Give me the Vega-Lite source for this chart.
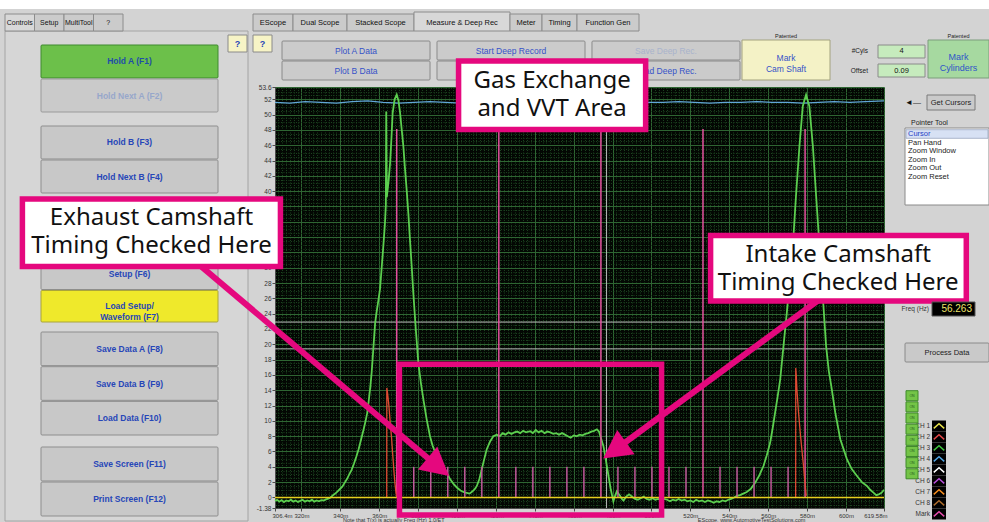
{
"$schema":"https://vega.github.io/schema/vega-lite/v6.json",
"background":"#d3d3d3",
"padding":0,
"spacing":0,
"bounds":"flush",
"config":{"view":{"stroke":null},"font":"Liberation Sans","text":{"font":"Liberation Sans"},"concat":{"spacing":0}},
"datasets":{
"windowTop":[{"strip":"title bar"}],
"panels":[{"panel":"Controls"}],
"leftTabs":[{"tab":"Controls","strip":"tabs","state":"sel"},{"tab":"Setup","strip":"tabs","state":"tab"},{"tab":"MultiTool","strip":"tabs","state":"tab"},{"tab":"?","strip":"tabs","state":"tab"}],
"scopeTabs":[{"tab":"EScope","strip":"tabs","state":"tab"},{"tab":"Dual Scope","strip":"tabs","state":"tab"},{"tab":"Stacked Scope","strip":"tabs","state":"tab"},{"tab":"Measure & Deep Rec","strip":"tabs","state":"sel"},{"tab":"Meter","strip":"tabs","state":"tab"},{"tab":"Timing","strip":"tabs","state":"tab"},{"tab":"Function Gen","strip":"tabs","state":"tab"}],
"helpButtons":[{"help":"Controls help","strip":"help","label":"?"},{"help":"Scope help","strip":"help","label":"?"}],
"controlButtons":[
{"panel":"Controls","group":"g1","key":"F1","label":"Hold A (F1)","state":"active"},
{"panel":"Controls","group":"g1","key":"F2","label":"Hold Next A (F2)","state":"disabled"},
{"panel":"Controls","group":"g2","key":"F3","label":"Hold B (F3)","state":"normal"},
{"panel":"Controls","group":"g2","key":"F4","label":"Hold Next B (F4)","state":"normal"},
{"panel":"Controls","group":"g3","key":"F6","label":"Setup (F6)","state":"normal"},
{"panel":"Controls","group":"g3","key":"F7","label":"Load Setup/\nWaveform (F7)","state":"load"},
{"panel":"Controls","group":"g4","key":"F8","label":"Save Data A (F8)","state":"normal"},
{"panel":"Controls","group":"g4","key":"F9","label":"Save Data B (F9)","state":"normal"},
{"panel":"Controls","group":"g4","key":"F10","label":"Load Data (F10)","state":"normal"},
{"panel":"Controls","group":"g5","key":"F11","label":"Save Screen (F11)","state":"normal"},
{"panel":"Controls","group":"g5","key":"F12","label":"Print Screen (F12)","state":"normal"}],
"scopeButtons":[{"col":"plot","row":"r1","label":"Plot A Data","state":"normal"},{"col":"plot","row":"r2","label":"Plot B Data","state":"normal"},{"col":"deep","row":"r1","label":"Start Deep Record","state":"normal"},{"col":"deep","row":"r2","label":"","state":"normal"},{"col":"save","row":"r1","label":"Save Deep Rec.","state":"disabled"},{"col":"save","row":"r2","label":"Load Deep Rec.","state":"normal"}],
"markCam":[{"widget":"Mark Cam Shaft","label":"Mark\nCam Shaft","note":"Patented"}],
"markCyl":[{"widget":"Mark Cylinders","label":"Mark\nCylinders","note":"Patented"}],
"cylSetup":[{"widget":"Cylinder setup","setting":"#Cyls","value":"4"},{"widget":"Cylinder setup","setting":"Offset","value":"0.09"}],
"getCursors":[{"widget":"Get Cursors","arrow":"◄—"}],
"pointerBox":[{"box":"Pointer Tool"}],
"pointerItems":[{"box":"Pointer Tool","item":"Cursor","state":"sel"},{"box":"Pointer Tool","item":"Pan Hand","state":"item"},{"box":"Pointer Tool","item":"Zoom Window","state":"item"},{"box":"Pointer Tool","item":"Zoom In","state":"item"},{"box":"Pointer Tool","item":"Zoom Out","state":"item"},{"box":"Pointer Tool","item":"Zoom Reset","state":"item"}],
"freq":[{"widget":"Freq (Hz)","value":"56.263"}],
"processData":[{"widget":"Process Data"}],
"channels":[{"ch":"CH 1","column":"traces","switch":"ON"},{"ch":"CH 2","column":"traces","switch":"ON"},{"ch":"CH 3","column":"traces","switch":"ON"},{"ch":"CH 4","column":"traces","switch":"ON"},{"ch":"CH 5","column":"traces","switch":"ON"},{"ch":"CH 6","column":"traces","switch":"ON"},{"ch":"CH 7","column":"traces","switch":"ON"},{"ch":"CH 8","column":"traces","switch":"ON"},{"ch":"Mark","column":"traces","switch":"none"}],
"trace":[
{"t":306.4,"p":-0.45},{"t":307.5,"p":-0.3},{"t":308.6,"p":-0.55},{"t":309.8,"p":-0.35},{"t":311,"p":-0.6},{"t":312.2,"p":-0.4},{"t":313.4,"p":-0.5},{"t":314.6,"p":-0.3},{"t":315.8,"p":-0.55},{"t":317,"p":-0.4},{"t":318.2,"p":-0.6},{"t":319.4,"p":-0.45},{"t":320.6,"p":-0.3},{"t":321.8,"p":-0.55},{"t":323,"p":-0.4},{"t":324.2,"p":-0.5},{"t":325.4,"p":-0.3},{"t":326.6,"p":-0.55},{"t":327.8,"p":-0.4},{"t":329,"p":-0.5},{"t":330.2,"p":-0.35},{"t":331.4,"p":-0.4},{"t":332.6,"p":-0.25},{"t":333.8,"p":-0.15},{"t":335,"p":0.0},
{"t":336.2,"p":0.3},{"t":337.4,"p":0.5},{"t":338.6,"p":0.8},{"t":339.8,"p":1.1},{"t":341,"p":1.4},{"t":342.2,"p":1.9},{"t":343.4,"p":2.4},{"t":344.6,"p":3.0},{"t":345.8,"p":3.6},{"t":347,"p":4.4},{"t":348.2,"p":5.3},{"t":349.4,"p":6.3},{"t":350.6,"p":7.5},{"t":351.8,"p":8.7},{"t":353,"p":10.0},{"t":353.8,"p":11.0},{"t":354.6,"p":12.6},{"t":355.4,"p":14.4},{"t":356.1,"p":16.3},{"t":356.8,"p":18.8},{"t":357.4,"p":21.0},{"t":357.9,"p":22.8},{"t":358.7,"p":24.3},{"t":359.6,"p":25.8},{"t":360.4,"p":27.2},{"t":361.2,"p":29.8},{"t":362.1,"p":32.8},{"t":362.9,"p":35.6},{"t":363.4,"p":38.2},{"t":363.6,"p":50.4},{"t":363.9,"p":39.2},{"t":364.8,"p":41.3},{"t":365.6,"p":43.7},{"t":366.3,"p":47.0},{"t":366.9,"p":50.2},{"t":367.9,"p":52.0},{"t":369.0,"p":52.6},{"t":369.9,"p":51.8},{"t":370.7,"p":50.3},{"t":371.5,"p":48.2},{"t":372.4,"p":45.9},{"t":373.2,"p":43.1},{"t":374.1,"p":40.2},{"t":375,"p":37.0},{"t":375.8,"p":33.7},{"t":376.7,"p":30.2},{"t":377.5,"p":26.8},{"t":378.8,"p":22.0},{"t":380.1,"p":17.6},{"t":381.4,"p":15.0},{"t":382.7,"p":12.8},{"t":384.4,"p":10.2},{"t":386.1,"p":8.0},{"t":387.4,"p":6.8},{"t":388.7,"p":5.9},{"t":390.8,"p":4.9},{"t":393,"p":4.1},{"t":394.8,"p":3.2},{"t":396.4,"p":2.4},{"t":398.1,"p":1.8},{"t":399.9,"p":1.3},{"t":401.8,"p":0.9},{"t":403.5,"p":0.7},{"t":405,"p":0.6},{"t":406.5,"p":0.5},{"t":408,"p":0.8},{"t":409.2,"p":1.1},{"t":410.2,"p":1.5},{"t":411.5,"p":2.4},{"t":412.7,"p":3.65},{"t":414,"p":5.0},{"t":415.3,"p":6.3},{"t":417,"p":7.3},{"t":418.7,"p":8.0},{"t":420.4,"p":8.2},{"t":422,"p":8.0},{"t":423.5,"p":8.4},{"t":425,"p":8.2},{"t":426.5,"p":8.5},{"t":428,"p":8.3},{"t":429.5,"p":8.5},{"t":431,"p":8.6},{"t":432.5,"p":8.4},{"t":434,"p":8.7},{"t":435.5,"p":8.5},{"t":437.6,"p":8.65},{"t":439,"p":8.4},{"t":440.5,"p":8.8},{"t":442,"p":8.5},{"t":443.5,"p":8.7},{"t":445,"p":8.4},{"t":446.5,"p":8.6},{"t":448,"p":8.5},{"t":449.5,"p":8.3},{"t":451,"p":8.4},{"t":452.5,"p":8.2},{"t":454,"p":8.4},{"t":455.5,"p":8.2},{"t":457,"p":8.0},{"t":458.5,"p":7.8},{"t":460,"p":8.1},{"t":461.5,"p":8.0},{"t":463,"p":8.2},{"t":464.5,"p":8.1},{"t":466,"p":8.3},{"t":467.5,"p":8.4},{"t":469,"p":8.6},{"t":470.5,"p":8.7},{"t":471.9,"p":8.9},{"t":473,"p":8.6},{"t":474.2,"p":7.6},{"t":475.3,"p":6.7},{"t":476.6,"p":4.8},{"t":477.9,"p":2.8},{"t":479.1,"p":1.0},{"t":480.4,"p":-0.5},{"t":481.3,"p":0.2},{"t":482.2,"p":0.8},{"t":483,"p":0.5},{"t":483.9,"p":0.2},{"t":484.8,"p":-0.2},{"t":485.6,"p":-0.4},{"t":487,"p":0.1},{"t":488.5,"p":0.4},{"t":490,"p":0.1},{"t":491.5,"p":-0.2},{"t":493,"p":-0.3},{"t":494.5,"p":-0.1},{"t":496,"p":0.1},{"t":497.5,"p":-0.2},{"t":499,"p":-0.3},{"t":500.5,"p":-0.1},{"t":502,"p":-0.3},{"t":503.5,"p":-0.2},{"t":505,"p":-0.4},{"t":506.5,"p":-0.2},{"t":508,"p":-0.3},{"t":509.5,"p":-0.5},{"t":511,"p":-0.3},{"t":512.5,"p":-0.4},{"t":514,"p":-0.2},{"t":515.5,"p":-0.4},{"t":517,"p":-0.3},{"t":518.5,"p":-0.5},{"t":520,"p":-0.4},{"t":521.5,"p":-0.6},{"t":523,"p":-0.3},{"t":524.5,"p":-0.5},{"t":526,"p":-0.4},{"t":527.5,"p":-0.6},{"t":529,"p":-0.4},{"t":530.5,"p":-0.5},{"t":532,"p":-0.7},{"t":533.5,"p":-0.5},{"t":535,"p":-0.6},{"t":536.5,"p":-0.4},{"t":538,"p":-0.5},{"t":539.5,"p":-0.3},{"t":541,"p":-0.2},{"t":542.5,"p":0.0},{"t":543.9,"p":0.2},{"t":545.5,"p":0.3},{"t":547.2,"p":0.5},{"t":549,"p":0.7},{"t":551,"p":1.1},{"t":553.3,"p":1.9},{"t":555.5,"p":2.9},{"t":557.6,"p":4.1},{"t":559.3,"p":5.5},{"t":561,"p":7.1},{"t":562.3,"p":9.0},{"t":563.6,"p":11.1},{"t":564.9,"p":13.2},{"t":566.2,"p":15.4},{"t":567.9,"p":19.8},{"t":569.6,"p":24.1},{"t":571.1,"p":28.5},{"t":572.7,"p":32.8},{"t":574.3,"p":39.3},{"t":576.1,"p":45.9},{"t":577.8,"p":51.1},{"t":579.5,"p":52.6},{"t":581.2,"p":51.1},{"t":583,"p":45.9},{"t":584.7,"p":39.3},{"t":586.4,"p":32.8},{"t":588.1,"p":26.3},{"t":589.8,"p":19.8},{"t":591.2,"p":16.5},{"t":592.5,"p":14.5},{"t":594.5,"p":11.1},{"t":597.1,"p":7.6},{"t":600.5,"p":5.0},{"t":603,"p":3.7},{"t":605.7,"p":2.8},{"t":608.2,"p":2.0},{"t":610.8,"p":1.5},{"t":612.5,"p":1.0},{"t":614.3,"p":0.6},{"t":615.6,"p":0.3},{"t":616.9,"p":0.4},{"t":618.3,"p":0.6},{"t":619.58,"p":1.0}],
"ch2":[{"t":306.4,"p":51.6},{"t":314,"p":51.5},{"t":322,"p":51.7},{"t":330,"p":51.6},{"t":338,"p":51.5},{"t":346,"p":51.7},{"t":354,"p":51.8},{"t":362,"p":51.6},{"t":370,"p":51.5},{"t":378,"p":51.6},{"t":386,"p":51.7},{"t":394,"p":51.6},{"t":402,"p":51.5},{"t":410,"p":51.6},{"t":418,"p":51.7},{"t":426,"p":51.6},{"t":434,"p":51.6},{"t":442,"p":51.5},{"t":450,"p":51.6},{"t":458,"p":51.6},{"t":466,"p":51.7},{"t":474,"p":51.6},{"t":482,"p":51.6},{"t":490,"p":51.5},{"t":498,"p":51.6},{"t":506,"p":51.6},{"t":514,"p":51.7},{"t":522,"p":51.6},{"t":530,"p":51.5},{"t":538,"p":51.6},{"t":546,"p":51.6},{"t":554,"p":51.7},{"t":562,"p":51.6},{"t":570,"p":51.6},{"t":578,"p":51.5},{"t":586,"p":51.6},{"t":594,"p":51.7},{"t":602,"p":51.6},{"t":610,"p":51.7},{"t":619.58,"p":51.8}],
"markers":[{"t":369.0,"kind":"tdc","base":0,"top":48.1},{"t":377.75,"kind":"tooth","base":0,"top":4.0},{"t":386.5,"kind":"tooth","base":0,"top":4.0},{"t":395.25,"kind":"tooth","base":0,"top":4.0},{"t":404.0,"kind":"tooth","base":0,"top":4.0},{"t":412.75,"kind":"tooth","base":0,"top":4.0},{"t":421.5,"kind":"tdc","base":0,"top":48.1},{"t":430.25,"kind":"tooth","base":0,"top":4.0},{"t":439.0,"kind":"tooth","base":0,"top":4.0},{"t":447.75,"kind":"tooth","base":0,"top":4.0},{"t":456.5,"kind":"tooth","base":0,"top":4.0},{"t":465.25,"kind":"tooth","base":0,"top":4.0},{"t":474.0,"kind":"tdc","base":0,"top":48.1},{"t":482.75,"kind":"tooth","base":0,"top":4.0},{"t":491.5,"kind":"tooth","base":0,"top":4.0},{"t":500.25,"kind":"tooth","base":0,"top":4.0},{"t":509.0,"kind":"tooth","base":0,"top":4.0},{"t":517.75,"kind":"tooth","base":0,"top":4.0},{"t":526.5,"kind":"tdc","base":0,"top":48.1},{"t":535.25,"kind":"tooth","base":0,"top":4.0},{"t":544.0,"kind":"tooth","base":0,"top":4.0},{"t":552.75,"kind":"tooth","base":0,"top":4.0},{"t":561.5,"kind":"tooth","base":0,"top":4.0},{"t":570.25,"kind":"tooth","base":0,"top":4.0},{"t":579.0,"kind":"tdc","base":0,"top":48.1}],
"ignition":[{"event":"cyl A","t":363.85,"p":0},{"event":"cyl A","t":363.9,"p":14.3},{"event":"cyl A","t":364.3,"p":13.6},{"event":"cyl A","t":365.0,"p":11.9},{"event":"cyl A","t":365.7,"p":9.6},{"event":"cyl A","t":366.4,"p":7.6},{"event":"cyl A","t":367.0,"p":5.4},{"event":"cyl A","t":367.6,"p":3.3},{"event":"cyl A","t":368.1,"p":1.8},{"event":"cyl A","t":368.6,"p":0.65},{"event":"cyl A","t":369.0,"p":0.0},
{"event":"cyl B","t":574.15,"p":0},{"event":"cyl B","t":574.2,"p":16.9},{"event":"cyl B","t":574.5,"p":15.8},{"event":"cyl B","t":574.8,"p":14.1},{"event":"cyl B","t":575.6,"p":11.2},{"event":"cyl B","t":576.5,"p":8.5},{"event":"cyl B","t":577.4,"p":6.1},{"event":"cyl B","t":578.2,"p":4.1},{"event":"cyl B","t":579.0,"p":1.8},{"event":"cyl B","t":579.6,"p":0.2}],
"cursorLevels":[{"p":22.9},{"p":19.4}],
"cursorTimes":[{"t":476.9}],
"zeroRef":[{"p":0}],
"footer":[{"label":"Note that T(x) is actually Freq (Hz) 1.0/ET","t":367.5,"p":-3.0},{"label":"EScope, www.AutomotiveTestSolutions.com","t":551.5,"p":-3.0}],
"focusArea":[{"t":370.4,"t2":505.2,"p":17.4,"p2":-2.29}],
"arrows":[{"arrow":"exhaust","t":262.7,"p":31.4},{"arrow":"exhaust","t":390.4,"p":3.97},{"arrow":"intake","t":589.3,"p":26.4},{"arrow":"intake","t":481.0,"p":6.16}],
"arrowHeads":[{"arrow":"exhaust","t":390.4,"p":3.97},{"arrow":"intake","t":481.0,"p":6.16}],
"callouts":[{"label":"Gas Exchange\nand VVT Area","t":400.8,"t2":497.0,"p":57.0,"p2":48.05,"tc":448.9,"pc":54.4},{"label":"Exhaust Camshaft\nTiming Checked Here","t":176.5,"t2":309.2,"p":38.97,"p2":30.16,"tc":242.9,"pc":36.5},{"label":"Intake Camshaft\nTiming Checked Here","t":530.4,"t2":661.9,"p":34.2,"p2":25.65,"tc":596.0,"pc":31.65}]
},
"hconcat":[
{
"width":275,"height":522,
"resolve":{"scale":{"x":"independent","y":"independent","fill":"independent","stroke":"independent","color":"independent"}},
"layer":[
{"data":{"name":"windowTop"},"mark":{"type":"bar","fill":"#ffffff"},"encoding":{"x":{"field":"strip","type":"nominal","scale":{"type":"band","domain":["title bar"],"range":[0,275],"paddingInner":0,"paddingOuter":0},"axis":null},"y":{"field":"strip","type":"nominal","scale":{"type":"band","domain":["title bar"],"range":[0,9],"paddingInner":0,"paddingOuter":0},"axis":null}}},
{"data":{"name":"panels"},"mark":{"type":"bar","fill":"#d6d6d6","stroke":"#a4a4a4","strokeWidth":1},"encoding":{"x":{"field":"panel","type":"nominal","scale":{"type":"band","domain":["Controls"],"range":[5,248],"paddingInner":0,"paddingOuter":0},"axis":null},"y":{"field":"panel","type":"nominal","scale":{"type":"band","domain":["Controls"],"range":[31,521],"paddingInner":0,"paddingOuter":0},"axis":null}}},
{"data":{"name":"leftTabs"},"mark":{"type":"bar","stroke":"#8c8c8c","strokeWidth":1},"encoding":{"x":{"field":"tab","type":"nominal","scale":{"type":"band","domain":["Controls","Setup","MultiTool","?"],"range":[5,123],"paddingInner":0,"paddingOuter":0},"axis":null},"y":{"field":"strip","type":"nominal","scale":{"type":"band","domain":["tabs"],"range":[14,31],"paddingInner":0,"paddingOuter":0},"axis":null},"fill":{"field":"state","type":"nominal","scale":{"domain":["sel","tab"],"range":["#d8d8d8","#cbcbcb"]},"legend":null}}},
{"data":{"name":"leftTabs"},"mark":{"type":"text","fontSize":7,"color":"#111111"},"encoding":{"x":{"field":"tab","type":"nominal","scale":{"type":"band","domain":["Controls","Setup","MultiTool","?"],"range":[5,123],"paddingInner":0,"paddingOuter":0},"axis":null},"y":{"field":"strip","type":"nominal","scale":{"type":"band","domain":["tabs"],"range":[14,31],"paddingInner":0,"paddingOuter":0},"axis":null},"text":{"field":"tab"}}},
{"data":{"name":"scopeTabs"},"transform":[{"filter":"datum.tab == 'EScope'"}],"mark":{"type":"bar","fill":"#cbcbcb","stroke":"#8c8c8c","strokeWidth":1},"encoding":{"x":{"field":"tab","type":"nominal","scale":{"type":"band","domain":["EScope"],"range":[253,293],"paddingInner":0,"paddingOuter":0},"axis":null},"y":{"field":"strip","type":"nominal","scale":{"type":"band","domain":["tabs"],"range":[14,31],"paddingInner":0,"paddingOuter":0},"axis":null}}},
{"data":{"name":"scopeTabs"},"transform":[{"filter":"datum.tab == 'EScope'"}],"mark":{"type":"text","fontSize":7.5,"color":"#111111"},"encoding":{"x":{"field":"tab","type":"nominal","scale":{"type":"band","domain":["EScope"],"range":[253,293],"paddingInner":0,"paddingOuter":0},"axis":null},"y":{"field":"strip","type":"nominal","scale":{"type":"band","domain":["tabs"],"range":[14,31],"paddingInner":0,"paddingOuter":0},"axis":null},"text":{"field":"tab"}}},
{"data":{"name":"helpButtons"},"mark":{"type":"bar","fill":"#f7f4c6","stroke":"#8a8a8a","strokeWidth":1},"encoding":{"x":{"field":"help","type":"nominal","scale":{"type":"band","domain":["Controls help","Scope help"],"range":[228,272],"paddingInner":0.24,"paddingOuter":0},"axis":null},"y":{"field":"strip","type":"nominal","scale":{"type":"band","domain":["help"],"range":[35,52],"paddingInner":0,"paddingOuter":0},"axis":null}}},
{"data":{"name":"helpButtons"},"mark":{"type":"text","fontSize":9,"fontWeight":"bold","color":"#2646b8"},"encoding":{"x":{"field":"help","type":"nominal","scale":{"type":"band","domain":["Controls help","Scope help"],"range":[228,272],"paddingInner":0.24,"paddingOuter":0},"axis":null},"y":{"field":"strip","type":"nominal","scale":{"type":"band","domain":["help"],"range":[35,52],"paddingInner":0,"paddingOuter":0},"axis":null},"text":{"field":"label"}}},
{"data":{"name":"controlButtons"},"transform":[{"filter":"datum.group == 'g1'"}],"mark":{"type":"bar","strokeWidth":1,"cornerRadius":1},"encoding":{"x":{"field":"panel","type":"nominal","scale":{"type":"band","domain":["Controls"],"range":[41,218],"paddingInner":0,"paddingOuter":0},"axis":null},"y":{"field":"key","type":"nominal","scale":{"type":"band","domain":["F1","F2"],"range":[45,112],"paddingInner":0.03,"paddingOuter":0},"axis":null},"fill":{"field":"state","type":"nominal","scale":{"domain":["active","disabled","normal","load"],"range":["#6cc04a","#cacaca","#c8c8c8","#efe92b"]},"legend":null},"stroke":{"field":"state","type":"nominal","scale":{"domain":["active","disabled","normal","load"],"range":["#3f8a2e","#9a9a9a","#8e8e8e","#a9a43a"]},"legend":null}}},
{"data":{"name":"controlButtons"},"transform":[{"filter":"datum.group == 'g1'"}],"mark":{"type":"text","fontSize":8.5,"fontWeight":"bold","lineBreak":"\n","lineHeight":11},"encoding":{"x":{"field":"panel","type":"nominal","scale":{"type":"band","domain":["Controls"],"range":[41,218],"paddingInner":0,"paddingOuter":0},"axis":null},"y":{"field":"key","type":"nominal","scale":{"type":"band","domain":["F1","F2"],"range":[45,112],"paddingInner":0.03,"paddingOuter":0},"axis":null},"color":{"field":"state","type":"nominal","scale":{"domain":["active","disabled","normal","load"],"range":["#1f4ea8","#97a7cb","#2646b8","#2646b8"]},"legend":null},"text":{"field":"label"}}},
{"data":{"name":"controlButtons"},"transform":[{"filter":"datum.group == 'g2'"}],"mark":{"type":"bar","strokeWidth":1,"cornerRadius":1},"encoding":{"x":{"field":"panel","type":"nominal","scale":{"type":"band","domain":["Controls"],"range":[41,218],"paddingInner":0,"paddingOuter":0},"axis":null},"y":{"field":"key","type":"nominal","scale":{"type":"band","domain":["F3","F4"],"range":[126,193],"paddingInner":0.03,"paddingOuter":0},"axis":null},"fill":{"field":"state","type":"nominal","scale":{"domain":["active","disabled","normal","load"],"range":["#6cc04a","#cacaca","#c8c8c8","#efe92b"]},"legend":null},"stroke":{"field":"state","type":"nominal","scale":{"domain":["active","disabled","normal","load"],"range":["#3f8a2e","#9a9a9a","#8e8e8e","#a9a43a"]},"legend":null}}},
{"data":{"name":"controlButtons"},"transform":[{"filter":"datum.group == 'g2'"}],"mark":{"type":"text","fontSize":8.5,"fontWeight":"bold","lineBreak":"\n","lineHeight":11},"encoding":{"x":{"field":"panel","type":"nominal","scale":{"type":"band","domain":["Controls"],"range":[41,218],"paddingInner":0,"paddingOuter":0},"axis":null},"y":{"field":"key","type":"nominal","scale":{"type":"band","domain":["F3","F4"],"range":[126,193],"paddingInner":0.03,"paddingOuter":0},"axis":null},"color":{"field":"state","type":"nominal","scale":{"domain":["active","disabled","normal","load"],"range":["#1f4ea8","#97a7cb","#2646b8","#2646b8"]},"legend":null},"text":{"field":"label"}}},
{"data":{"name":"controlButtons"},"transform":[{"filter":"datum.group == 'g3'"}],"mark":{"type":"bar","strokeWidth":1,"cornerRadius":1},"encoding":{"x":{"field":"panel","type":"nominal","scale":{"type":"band","domain":["Controls"],"range":[41,218],"paddingInner":0,"paddingOuter":0},"axis":null},"y":{"field":"key","type":"nominal","scale":{"type":"band","domain":["F6","F7"],"range":[258,322],"paddingInner":0.03,"paddingOuter":0},"axis":null},"fill":{"field":"state","type":"nominal","scale":{"domain":["active","disabled","normal","load"],"range":["#6cc04a","#cacaca","#c8c8c8","#efe92b"]},"legend":null},"stroke":{"field":"state","type":"nominal","scale":{"domain":["active","disabled","normal","load"],"range":["#3f8a2e","#9a9a9a","#8e8e8e","#a9a43a"]},"legend":null}}},
{"data":{"name":"controlButtons"},"transform":[{"filter":"datum.group == 'g3'"}],"mark":{"type":"text","fontSize":8.5,"fontWeight":"bold","lineBreak":"\n","lineHeight":11},"encoding":{"x":{"field":"panel","type":"nominal","scale":{"type":"band","domain":["Controls"],"range":[41,218],"paddingInner":0,"paddingOuter":0},"axis":null},"y":{"field":"key","type":"nominal","scale":{"type":"band","domain":["F6","F7"],"range":[258,322],"paddingInner":0.03,"paddingOuter":0},"axis":null},"color":{"field":"state","type":"nominal","scale":{"domain":["active","disabled","normal","load"],"range":["#1f4ea8","#97a7cb","#2646b8","#2646b8"]},"legend":null},"text":{"field":"label"}}},
{"data":{"name":"controlButtons"},"transform":[{"filter":"datum.group == 'g4'"}],"mark":{"type":"bar","strokeWidth":1,"cornerRadius":1},"encoding":{"x":{"field":"panel","type":"nominal","scale":{"type":"band","domain":["Controls"],"range":[41,218],"paddingInner":0,"paddingOuter":0},"axis":null},"y":{"field":"key","type":"nominal","scale":{"type":"band","domain":["F8","F9","F10"],"range":[332,435],"paddingInner":0.03,"paddingOuter":0},"axis":null},"fill":{"field":"state","type":"nominal","scale":{"domain":["active","disabled","normal","load"],"range":["#6cc04a","#cacaca","#c8c8c8","#efe92b"]},"legend":null},"stroke":{"field":"state","type":"nominal","scale":{"domain":["active","disabled","normal","load"],"range":["#3f8a2e","#9a9a9a","#8e8e8e","#a9a43a"]},"legend":null}}},
{"data":{"name":"controlButtons"},"transform":[{"filter":"datum.group == 'g4'"}],"mark":{"type":"text","fontSize":8.5,"fontWeight":"bold","lineBreak":"\n","lineHeight":11},"encoding":{"x":{"field":"panel","type":"nominal","scale":{"type":"band","domain":["Controls"],"range":[41,218],"paddingInner":0,"paddingOuter":0},"axis":null},"y":{"field":"key","type":"nominal","scale":{"type":"band","domain":["F8","F9","F10"],"range":[332,435],"paddingInner":0.03,"paddingOuter":0},"axis":null},"color":{"field":"state","type":"nominal","scale":{"domain":["active","disabled","normal","load"],"range":["#1f4ea8","#97a7cb","#2646b8","#2646b8"]},"legend":null},"text":{"field":"label"}}},
{"data":{"name":"controlButtons"},"transform":[{"filter":"datum.group == 'g5'"}],"mark":{"type":"bar","strokeWidth":1,"cornerRadius":1},"encoding":{"x":{"field":"panel","type":"nominal","scale":{"type":"band","domain":["Controls"],"range":[41,218],"paddingInner":0,"paddingOuter":0},"axis":null},"y":{"field":"key","type":"nominal","scale":{"type":"band","domain":["F11","F12"],"range":[447,516],"paddingInner":0.03,"paddingOuter":0},"axis":null},"fill":{"field":"state","type":"nominal","scale":{"domain":["active","disabled","normal","load"],"range":["#6cc04a","#cacaca","#c8c8c8","#efe92b"]},"legend":null},"stroke":{"field":"state","type":"nominal","scale":{"domain":["active","disabled","normal","load"],"range":["#3f8a2e","#9a9a9a","#8e8e8e","#a9a43a"]},"legend":null}}},
{"data":{"name":"controlButtons"},"transform":[{"filter":"datum.group == 'g5'"}],"mark":{"type":"text","fontSize":8.5,"fontWeight":"bold","lineBreak":"\n","lineHeight":11},"encoding":{"x":{"field":"panel","type":"nominal","scale":{"type":"band","domain":["Controls"],"range":[41,218],"paddingInner":0,"paddingOuter":0},"axis":null},"y":{"field":"key","type":"nominal","scale":{"type":"band","domain":["F11","F12"],"range":[447,516],"paddingInner":0.03,"paddingOuter":0},"axis":null},"color":{"field":"state","type":"nominal","scale":{"domain":["active","disabled","normal","load"],"range":["#1f4ea8","#97a7cb","#2646b8","#2646b8"]},"legend":null},"text":{"field":"label"}}}
]
},
{
"vconcat":[
{
"width":714,"height":87,
"resolve":{"scale":{"x":"independent","y":"independent","fill":"independent","stroke":"independent","color":"independent"}},
"layer":[
{"data":{"name":"windowTop"},"mark":{"type":"bar","fill":"#ffffff"},"encoding":{"x":{"field":"strip","type":"nominal","scale":{"type":"band","domain":["title bar"],"range":[0,714],"paddingInner":0,"paddingOuter":0},"axis":null},"y":{"field":"strip","type":"nominal","scale":{"type":"band","domain":["title bar"],"range":[0,9],"paddingInner":0,"paddingOuter":0},"axis":null}}},
{"data":{"name":"scopeTabs"},"transform":[{"filter":"datum.tab == 'Dual Scope'"}],"mark":{"type":"bar","fill":"#cbcbcb","stroke":"#8c8c8c","strokeWidth":1},"encoding":{"x":{"field":"tab","type":"nominal","scale":{"type":"band","domain":["Dual Scope"],"range":[18,72],"paddingInner":0,"paddingOuter":0},"axis":null},"y":{"field":"strip","type":"nominal","scale":{"type":"band","domain":["tabs"],"range":[14,31],"paddingInner":0,"paddingOuter":0},"axis":null}}},
{"data":{"name":"scopeTabs"},"transform":[{"filter":"datum.tab == 'Dual Scope'"}],"mark":{"type":"text","fontSize":7.5,"color":"#111111"},"encoding":{"x":{"field":"tab","type":"nominal","scale":{"type":"band","domain":["Dual Scope"],"range":[18,72],"paddingInner":0,"paddingOuter":0},"axis":null},"y":{"field":"strip","type":"nominal","scale":{"type":"band","domain":["tabs"],"range":[14,31],"paddingInner":0,"paddingOuter":0},"axis":null},"text":{"field":"tab"}}},
{"data":{"name":"scopeTabs"},"transform":[{"filter":"datum.tab == 'Stacked Scope'"}],"mark":{"type":"bar","fill":"#cbcbcb","stroke":"#8c8c8c","strokeWidth":1},"encoding":{"x":{"field":"tab","type":"nominal","scale":{"type":"band","domain":["Stacked Scope"],"range":[72,139],"paddingInner":0,"paddingOuter":0},"axis":null},"y":{"field":"strip","type":"nominal","scale":{"type":"band","domain":["tabs"],"range":[14,31],"paddingInner":0,"paddingOuter":0},"axis":null}}},
{"data":{"name":"scopeTabs"},"transform":[{"filter":"datum.tab == 'Stacked Scope'"}],"mark":{"type":"text","fontSize":7.5,"color":"#111111"},"encoding":{"x":{"field":"tab","type":"nominal","scale":{"type":"band","domain":["Stacked Scope"],"range":[72,139],"paddingInner":0,"paddingOuter":0},"axis":null},"y":{"field":"strip","type":"nominal","scale":{"type":"band","domain":["tabs"],"range":[14,31],"paddingInner":0,"paddingOuter":0},"axis":null},"text":{"field":"tab"}}},
{"data":{"name":"scopeTabs"},"transform":[{"filter":"datum.tab == 'Measure & Deep Rec'"}],"mark":{"type":"bar","fill":"#d8d8d8","stroke":"#8c8c8c","strokeWidth":1},"encoding":{"x":{"field":"tab","type":"nominal","scale":{"type":"band","domain":["Measure & Deep Rec"],"range":[139,235],"paddingInner":0,"paddingOuter":0},"axis":null},"y":{"field":"strip","type":"nominal","scale":{"type":"band","domain":["tabs"],"range":[12,31],"paddingInner":0,"paddingOuter":0},"axis":null}}},
{"data":{"name":"scopeTabs"},"transform":[{"filter":"datum.tab == 'Measure & Deep Rec'"}],"mark":{"type":"text","fontSize":7.5,"color":"#111111"},"encoding":{"x":{"field":"tab","type":"nominal","scale":{"type":"band","domain":["Measure & Deep Rec"],"range":[139,235],"paddingInner":0,"paddingOuter":0},"axis":null},"y":{"field":"strip","type":"nominal","scale":{"type":"band","domain":["tabs"],"range":[14,31],"paddingInner":0,"paddingOuter":0},"axis":null},"text":{"field":"tab"}}},
{"data":{"name":"scopeTabs"},"transform":[{"filter":"datum.tab == 'Meter'"}],"mark":{"type":"bar","fill":"#cbcbcb","stroke":"#8c8c8c","strokeWidth":1},"encoding":{"x":{"field":"tab","type":"nominal","scale":{"type":"band","domain":["Meter"],"range":[235,267],"paddingInner":0,"paddingOuter":0},"axis":null},"y":{"field":"strip","type":"nominal","scale":{"type":"band","domain":["tabs"],"range":[14,31],"paddingInner":0,"paddingOuter":0},"axis":null}}},
{"data":{"name":"scopeTabs"},"transform":[{"filter":"datum.tab == 'Meter'"}],"mark":{"type":"text","fontSize":7.5,"color":"#111111"},"encoding":{"x":{"field":"tab","type":"nominal","scale":{"type":"band","domain":["Meter"],"range":[235,267],"paddingInner":0,"paddingOuter":0},"axis":null},"y":{"field":"strip","type":"nominal","scale":{"type":"band","domain":["tabs"],"range":[14,31],"paddingInner":0,"paddingOuter":0},"axis":null},"text":{"field":"tab"}}},
{"data":{"name":"scopeTabs"},"transform":[{"filter":"datum.tab == 'Timing'"}],"mark":{"type":"bar","fill":"#cbcbcb","stroke":"#8c8c8c","strokeWidth":1},"encoding":{"x":{"field":"tab","type":"nominal","scale":{"type":"band","domain":["Timing"],"range":[267,302],"paddingInner":0,"paddingOuter":0},"axis":null},"y":{"field":"strip","type":"nominal","scale":{"type":"band","domain":["tabs"],"range":[14,31],"paddingInner":0,"paddingOuter":0},"axis":null}}},
{"data":{"name":"scopeTabs"},"transform":[{"filter":"datum.tab == 'Timing'"}],"mark":{"type":"text","fontSize":7.5,"color":"#111111"},"encoding":{"x":{"field":"tab","type":"nominal","scale":{"type":"band","domain":["Timing"],"range":[267,302],"paddingInner":0,"paddingOuter":0},"axis":null},"y":{"field":"strip","type":"nominal","scale":{"type":"band","domain":["tabs"],"range":[14,31],"paddingInner":0,"paddingOuter":0},"axis":null},"text":{"field":"tab"}}},
{"data":{"name":"scopeTabs"},"transform":[{"filter":"datum.tab == 'Function Gen'"}],"mark":{"type":"bar","fill":"#cbcbcb","stroke":"#8c8c8c","strokeWidth":1},"encoding":{"x":{"field":"tab","type":"nominal","scale":{"type":"band","domain":["Function Gen"],"range":[302,364],"paddingInner":0,"paddingOuter":0},"axis":null},"y":{"field":"strip","type":"nominal","scale":{"type":"band","domain":["tabs"],"range":[14,31],"paddingInner":0,"paddingOuter":0},"axis":null}}},
{"data":{"name":"scopeTabs"},"transform":[{"filter":"datum.tab == 'Function Gen'"}],"mark":{"type":"text","fontSize":7.5,"color":"#111111"},"encoding":{"x":{"field":"tab","type":"nominal","scale":{"type":"band","domain":["Function Gen"],"range":[302,364],"paddingInner":0,"paddingOuter":0},"axis":null},"y":{"field":"strip","type":"nominal","scale":{"type":"band","domain":["tabs"],"range":[14,31],"paddingInner":0,"paddingOuter":0},"axis":null},"text":{"field":"tab"}}},
{"data":{"name":"scopeButtons"},"mark":{"type":"bar","fill":"#cbcbcb","stroke":"#8a8a8a","strokeWidth":1,"cornerRadius":1},"encoding":{"x":{"field":"col","type":"nominal","scale":{"type":"band","domain":["plot","deep","save"],"range":[7,465],"paddingInner":0.045,"paddingOuter":0},"axis":null},"y":{"field":"row","type":"nominal","scale":{"type":"band","domain":["r1","r2"],"range":[41,80],"paddingInner":0.05,"paddingOuter":0},"axis":null}}},
{"data":{"name":"scopeButtons"},"mark":{"type":"text","fontSize":8.5},"encoding":{"x":{"field":"col","type":"nominal","scale":{"type":"band","domain":["plot","deep","save"],"range":[7,465],"paddingInner":0.045,"paddingOuter":0},"axis":null},"y":{"field":"row","type":"nominal","scale":{"type":"band","domain":["r1","r2"],"range":[41,80],"paddingInner":0.05,"paddingOuter":0},"axis":null},"color":{"field":"state","type":"nominal","scale":{"domain":["normal","disabled"],"range":["#3552c8","#a9b3cc"]},"legend":null},"text":{"field":"label"}}},
{"data":{"name":"markCam"},"mark":{"type":"bar","fill":"#f4f2c6","stroke":"#a3a27e","strokeWidth":1},"encoding":{"x":{"field":"widget","type":"nominal","scale":{"type":"band","domain":["Mark Cam Shaft"],"range":[467,555],"paddingInner":0,"paddingOuter":0},"axis":null},"y":{"field":"widget","type":"nominal","scale":{"type":"band","domain":["Mark Cam Shaft"],"range":[40,80],"paddingInner":0,"paddingOuter":0},"axis":null}}},
{"data":{"name":"markCam"},"mark":{"type":"text","fontSize":8.5,"color":"#3552c8","lineBreak":"\n","lineHeight":11},"encoding":{"x":{"field":"widget","type":"nominal","scale":{"type":"band","domain":["Mark Cam Shaft"],"range":[467,555],"paddingInner":0,"paddingOuter":0},"axis":null},"y":{"field":"widget","type":"nominal","scale":{"type":"band","domain":["Mark Cam Shaft"],"range":[36,80],"paddingInner":0,"paddingOuter":0},"axis":null},"text":{"field":"label"}}},
{"data":{"name":"markCam"},"mark":{"type":"text","fontSize":5.5,"color":"#222222","baseline":"bottom","dy":-1},"encoding":{"x":{"field":"widget","type":"nominal","scale":{"type":"band","domain":["Mark Cam Shaft"],"range":[467,555],"paddingInner":0,"paddingOuter":0},"axis":null},"y":{"field":"widget","type":"nominal","bandPosition":0,"scale":{"type":"band","domain":["Mark Cam Shaft"],"range":[40,80],"paddingInner":0,"paddingOuter":0},"axis":null},"text":{"field":"note"}}},
{"data":{"name":"cylSetup"},"mark":{"type":"bar","fill":"#c6ebbd","stroke":"#8a8a8a","strokeWidth":1},"encoding":{"x":{"field":"widget","type":"nominal","scale":{"type":"band","domain":["Cylinder setup"],"range":[603,650],"paddingInner":0,"paddingOuter":0},"axis":null},"y":{"field":"setting","type":"nominal","scale":{"type":"band","domain":["#Cyls","Offset"],"range":[45,77],"paddingInner":0.3158,"paddingOuter":0},"axis":null}}},
{"data":{"name":"cylSetup"},"mark":{"type":"text","fontSize":7.5,"color":"#111111"},"encoding":{"x":{"field":"widget","type":"nominal","scale":{"type":"band","domain":["Cylinder setup"],"range":[603,650],"paddingInner":0,"paddingOuter":0},"axis":null},"y":{"field":"setting","type":"nominal","scale":{"type":"band","domain":["#Cyls","Offset"],"range":[45,77],"paddingInner":0.3158,"paddingOuter":0},"axis":null},"text":{"field":"value"}}},
{"data":{"name":"cylSetup"},"mark":{"type":"text","fontSize":6.5,"color":"#222222","align":"right","dx":-10},"encoding":{"x":{"field":"widget","type":"nominal","bandPosition":0,"scale":{"type":"band","domain":["Cylinder setup"],"range":[603,650],"paddingInner":0,"paddingOuter":0},"axis":null},"y":{"field":"setting","type":"nominal","scale":{"type":"band","domain":["#Cyls","Offset"],"range":[45,77],"paddingInner":0.3158,"paddingOuter":0},"axis":null},"text":{"field":"setting"}}},
{"data":{"name":"markCyl"},"mark":{"type":"bar","fill":"#a6d9a0","stroke":"#7d9d7d","strokeWidth":1},"encoding":{"x":{"field":"widget","type":"nominal","scale":{"type":"band","domain":["Mark Cylinders"],"range":[653,714],"paddingInner":0,"paddingOuter":0},"axis":null},"y":{"field":"widget","type":"nominal","scale":{"type":"band","domain":["Mark Cylinders"],"range":[40,78],"paddingInner":0,"paddingOuter":0},"axis":null}}},
{"data":{"name":"markCyl"},"mark":{"type":"text","fontSize":9,"color":"#2f55c8","lineBreak":"\n","lineHeight":11},"encoding":{"x":{"field":"widget","type":"nominal","scale":{"type":"band","domain":["Mark Cylinders"],"range":[653,714],"paddingInner":0,"paddingOuter":0},"axis":null},"y":{"field":"widget","type":"nominal","scale":{"type":"band","domain":["Mark Cylinders"],"range":[35,78],"paddingInner":0,"paddingOuter":0},"axis":null},"text":{"field":"label"}}},
{"data":{"name":"markCyl"},"mark":{"type":"text","fontSize":5.5,"color":"#222222","baseline":"bottom","dy":-1},"encoding":{"x":{"field":"widget","type":"nominal","scale":{"type":"band","domain":["Mark Cylinders"],"range":[653,714],"paddingInner":0,"paddingOuter":0},"axis":null},"y":{"field":"widget","type":"nominal","bandPosition":0,"scale":{"type":"band","domain":["Mark Cylinders"],"range":[40,78],"paddingInner":0,"paddingOuter":0},"axis":null},"text":{"field":"note"}}}
]
},
{
"hconcat":[
{
"width":609,"height":421,
"view":{"fill":"#030703","stroke":null},
"resolve":{"axis":{"x":"independent","y":"independent"}},
"layer":[
{"data":{"name":"trace"},"mark":{"type":"line","opacity":0},"encoding":{"x":{"field":"t","type":"quantitative","scale":{"domain":[306.4,619.58],"nice":false,"zero":false},"axis":{"orient":"top","tickCount":157,"grid":true,"gridColor":"#1b421e","gridDash":[1,1.5],"gridWidth":1,"labels":false,"ticks":false,"domain":false,"title":null}},"y":{"field":"p","type":"quantitative","scale":{"domain":[-1.38,53.6],"nice":false,"zero":false},"axis":{"orient":"right","tickCount":110,"grid":true,"gridColor":"#1b421e","gridDash":[1,1.5],"gridWidth":1,"labels":false,"ticks":false,"domain":false,"title":null}}}},
{"data":{"name":"trace"},"mark":{"type":"line","opacity":0},"encoding":{"x":{"field":"t","type":"quantitative","scale":{"domain":[306.4,619.58],"nice":false,"zero":false},"axis":{"orient":"bottom","values":[306.4,320,340,360,380,400,420,440,460,480,500,520,540,560,580,600,619.58],"labelExpr":"datum.value + 'm'","grid":true,"gridColor":"#2e6532","gridWidth":1,"domain":true,"domainColor":"#4d4d4d","ticks":true,"tickSize":3,"tickColor":"#4d4d4d","labelFontSize":6,"labelColor":"#333333","labelPadding":1,"labelOverlap":false,"labelFlushOffset":3,"title":null}},"y":{"field":"p","type":"quantitative","scale":{"domain":[-1.38,53.6],"nice":false,"zero":false},"axis":{"orient":"left","values":[-1.38,0,2,4,6,8,10,12,14,16,18,20,22,24,26,28,30,32,34,36,38,40,42,44,46,48,50,52,53.6],"labelExpr":"'' + datum.value","grid":true,"gridColor":"#2e6532","gridWidth":1,"domain":true,"domainColor":"#4d4d4d","ticks":true,"tickSize":3,"tickColor":"#4d4d4d","labelFontSize":6.5,"labelColor":"#333333","labelPadding":1,"labelOverlap":false,"title":null}}}},
{"data":{"name":"cursorLevels"},"mark":{"type":"rule","color":"#b9b9b9","strokeWidth":1},"encoding":{"y":{"field":"p","type":"quantitative","scale":{"domain":[-1.38,53.6],"nice":false,"zero":false},"axis":null}}},
{"data":{"name":"cursorTimes"},"mark":{"type":"rule","color":"#b9b9b9","strokeWidth":1},"encoding":{"x":{"field":"t","type":"quantitative","scale":{"domain":[306.4,619.58],"nice":false,"zero":false},"axis":null}}},
{"data":{"name":"ch2"},"mark":{"type":"line","color":"#62a6d8","strokeWidth":1.3},"encoding":{"x":{"field":"t","type":"quantitative","scale":{"domain":[306.4,619.58],"nice":false,"zero":false},"axis":null},"y":{"field":"p","type":"quantitative","scale":{"domain":[-1.38,53.6],"nice":false,"zero":false},"axis":null}}},
{"data":{"name":"trace"},"mark":{"type":"line","color":"#5ccf4f","strokeWidth":1.8},"encoding":{"x":{"field":"t","type":"quantitative","scale":{"domain":[306.4,619.58],"nice":false,"zero":false},"axis":null},"y":{"field":"p","type":"quantitative","scale":{"domain":[-1.38,53.6],"nice":false,"zero":false},"axis":null}}},
{"data":{"name":"markers"},"mark":{"type":"rule","strokeWidth":1.5},"encoding":{"x":{"field":"t","type":"quantitative","scale":{"domain":[306.4,619.58],"nice":false,"zero":false},"axis":null},"y":{"field":"base","type":"quantitative","scale":{"domain":[-1.38,53.6],"nice":false,"zero":false},"axis":null},"y2":{"field":"top"},"color":{"field":"kind","type":"nominal","scale":{"domain":["tdc","tooth"],"range":["#e3519e","#c0599b"]},"legend":null}}},
{"data":{"name":"ignition"},"mark":{"type":"line","color":"#df4a33","strokeWidth":1.3},"encoding":{"x":{"field":"t","type":"quantitative","scale":{"domain":[306.4,619.58],"nice":false,"zero":false},"axis":null},"y":{"field":"p","type":"quantitative","scale":{"domain":[-1.38,53.6],"nice":false,"zero":false},"axis":null},"detail":{"field":"event","type":"nominal"}}},
{"data":{"name":"zeroRef"},"mark":{"type":"rule","color":"#e6cf1f","strokeWidth":1.6},"encoding":{"y":{"field":"p","type":"quantitative","scale":{"domain":[-1.38,53.6],"nice":false,"zero":false},"axis":null}}},
{"data":{"name":"footer"},"mark":{"type":"text","fontSize":5.5,"color":"#333333"},"encoding":{"x":{"field":"t","type":"quantitative","scale":{"domain":[306.4,619.58],"nice":false,"zero":false},"axis":null},"y":{"field":"p","type":"quantitative","scale":{"domain":[-1.38,53.6],"nice":false,"zero":false},"axis":null},"text":{"field":"label"}}},
{"data":{"name":"focusArea"},"mark":{"type":"rect","fill":"#ffffff","fillOpacity":0,"stroke":"#e5087e","strokeWidth":5.5},"encoding":{"x":{"field":"t","type":"quantitative","scale":{"domain":[306.4,619.58],"nice":false,"zero":false},"axis":null},"x2":{"field":"t2"},"y":{"field":"p","type":"quantitative","scale":{"domain":[-1.38,53.6],"nice":false,"zero":false},"axis":null},"y2":{"field":"p2"}}},
{"data":{"name":"arrows"},"mark":{"type":"line","color":"#e5087e","strokeWidth":6,"strokeCap":"butt"},"encoding":{"x":{"field":"t","type":"quantitative","scale":{"domain":[306.4,619.58],"nice":false,"zero":false},"axis":null},"y":{"field":"p","type":"quantitative","scale":{"domain":[-1.38,53.6],"nice":false,"zero":false},"axis":null},"detail":{"field":"arrow","type":"nominal"}}},
{"data":{"name":"arrowHeads"},"transform":[{"filter":"datum.arrow == 'exhaust'"}],"mark":{"type":"point","shape":"M1,0L-1,-1.07L-1,1.07Z","filled":true,"size":784,"angle":40.1,"color":"#e5087e","opacity":1,"strokeWidth":0},"encoding":{"x":{"field":"t","type":"quantitative","scale":{"domain":[306.4,619.58],"nice":false,"zero":false},"axis":null},"y":{"field":"p","type":"quantitative","scale":{"domain":[-1.38,53.6],"nice":false,"zero":false},"axis":null}}},
{"data":{"name":"arrowHeads"},"transform":[{"filter":"datum.arrow == 'intake'"}],"mark":{"type":"point","shape":"M1,0L-1,-1.07L-1,1.07Z","filled":true,"size":784,"angle":144.5,"color":"#e5087e","opacity":1,"strokeWidth":0},"encoding":{"x":{"field":"t","type":"quantitative","scale":{"domain":[306.4,619.58],"nice":false,"zero":false},"axis":null},"y":{"field":"p","type":"quantitative","scale":{"domain":[-1.38,53.6],"nice":false,"zero":false},"axis":null}}},
{"data":{"name":"callouts"},"mark":{"type":"rect","fill":"#ffffff","stroke":"#e5087e","strokeWidth":5.5},"encoding":{"x":{"field":"t","type":"quantitative","scale":{"domain":[306.4,619.58],"nice":false,"zero":false},"axis":null},"x2":{"field":"t2"},"y":{"field":"p","type":"quantitative","scale":{"domain":[-1.38,53.6],"nice":false,"zero":false},"axis":null},"y2":{"field":"p2"}}},
{"data":{"name":"callouts"},"mark":{"type":"text","font":"Noto Sans","fontSize":24,"lineHeight":28,"lineBreak":"\n","color":"#111111"},"encoding":{"x":{"field":"tc","type":"quantitative","scale":{"domain":[306.4,619.58],"nice":false,"zero":false},"axis":null},"y":{"field":"pc","type":"quantitative","scale":{"domain":[-1.38,53.6],"nice":false,"zero":false},"axis":null},"text":{"field":"label"}}}
]
},
{
"width":105,"height":435,
"resolve":{"scale":{"x":"independent","y":"independent","fill":"independent","stroke":"independent","color":"independent"}},
"layer":[
{"data":{"name":"getCursors"},"mark":{"type":"bar","fill":"#cacaca","stroke":"#7a7a7a","strokeWidth":1},"encoding":{"x":{"field":"widget","type":"nominal","scale":{"type":"band","domain":["Get Cursors"],"range":[43,91],"paddingInner":0,"paddingOuter":0},"axis":null},"y":{"field":"widget","type":"nominal","scale":{"type":"band","domain":["Get Cursors"],"range":[8,23],"paddingInner":0,"paddingOuter":0},"axis":null}}},
{"data":{"name":"getCursors"},"mark":{"type":"text","fontSize":7.5,"color":"#222222"},"encoding":{"x":{"field":"widget","type":"nominal","scale":{"type":"band","domain":["Get Cursors"],"range":[43,91],"paddingInner":0,"paddingOuter":0},"axis":null},"y":{"field":"widget","type":"nominal","scale":{"type":"band","domain":["Get Cursors"],"range":[8,23],"paddingInner":0,"paddingOuter":0},"axis":null},"text":{"field":"widget"}}},
{"data":{"name":"getCursors"},"mark":{"type":"text","fontSize":8,"color":"#111111","align":"right","dx":-6},"encoding":{"x":{"field":"widget","type":"nominal","bandPosition":0,"scale":{"type":"band","domain":["Get Cursors"],"range":[43,91],"paddingInner":0,"paddingOuter":0},"axis":null},"y":{"field":"widget","type":"nominal","scale":{"type":"band","domain":["Get Cursors"],"range":[8,23],"paddingInner":0,"paddingOuter":0},"axis":null},"text":{"field":"arrow"}}},
{"data":{"name":"pointerBox"},"mark":{"type":"bar","fill":"#ffffff","stroke":"#8a8a8a","strokeWidth":1},"encoding":{"x":{"field":"box","type":"nominal","scale":{"type":"band","domain":["Pointer Tool"],"range":[21,105],"paddingInner":0,"paddingOuter":0},"axis":null},"y":{"field":"box","type":"nominal","scale":{"type":"band","domain":["Pointer Tool"],"range":[41,118],"paddingInner":0,"paddingOuter":0},"axis":null}}},
{"data":{"name":"pointerBox"},"mark":{"type":"text","fontSize":7,"color":"#222222","align":"left","baseline":"bottom","dx":6,"dy":-2},"encoding":{"x":{"field":"box","type":"nominal","bandPosition":0,"scale":{"type":"band","domain":["Pointer Tool"],"range":[21,105],"paddingInner":0,"paddingOuter":0},"axis":null},"y":{"field":"box","type":"nominal","bandPosition":0,"scale":{"type":"band","domain":["Pointer Tool"],"range":[41,118],"paddingInner":0,"paddingOuter":0},"axis":null},"text":{"field":"box"}}},
{"data":{"name":"pointerItems"},"transform":[{"filter":"datum.state == 'sel'"}],"mark":{"type":"bar","fill":"#d7e1f4","stroke":"#9aa6c0","strokeWidth":0.8},"encoding":{"x":{"field":"box","type":"nominal","scale":{"type":"band","domain":["Pointer Tool"],"range":[22,104],"paddingInner":0,"paddingOuter":0},"axis":null},"y":{"field":"item","type":"nominal","scale":{"type":"band","domain":["Cursor","Pan Hand","Zoom Window","Zoom In","Zoom Out","Zoom Reset"],"range":[42.7,94.3],"paddingInner":0,"paddingOuter":0},"axis":null}}},
{"data":{"name":"pointerItems"},"mark":{"type":"text","fontSize":7.5,"align":"left","dx":3},"encoding":{"x":{"field":"box","type":"nominal","bandPosition":0,"scale":{"type":"band","domain":["Pointer Tool"],"range":[21,105],"paddingInner":0,"paddingOuter":0},"axis":null},"y":{"field":"item","type":"nominal","scale":{"type":"band","domain":["Cursor","Pan Hand","Zoom Window","Zoom In","Zoom Out","Zoom Reset"],"range":[42.7,94.3],"paddingInner":0,"paddingOuter":0},"axis":null},"color":{"field":"state","type":"nominal","scale":{"domain":["sel","item"],"range":["#1f3fc4","#222222"]},"legend":null},"text":{"field":"item"}}},
{"data":{"name":"freq"},"mark":{"type":"bar","fill":"#000000","stroke":"#555555","strokeWidth":1},"encoding":{"x":{"field":"widget","type":"nominal","scale":{"type":"band","domain":["Freq (Hz)"],"range":[48,91],"paddingInner":0,"paddingOuter":0},"axis":null},"y":{"field":"widget","type":"nominal","scale":{"type":"band","domain":["Freq (Hz)"],"range":[215,229],"paddingInner":0,"paddingOuter":0},"axis":null}}},
{"data":{"name":"freq"},"mark":{"type":"text","fontSize":10,"color":"#ece36a","align":"right","dx":-3},"encoding":{"x":{"field":"widget","type":"nominal","bandPosition":1,"scale":{"type":"band","domain":["Freq (Hz)"],"range":[48,91],"paddingInner":0,"paddingOuter":0},"axis":null},"y":{"field":"widget","type":"nominal","scale":{"type":"band","domain":["Freq (Hz)"],"range":[215,229],"paddingInner":0,"paddingOuter":0},"axis":null},"text":{"field":"value"}}},
{"data":{"name":"freq"},"mark":{"type":"text","fontSize":6.5,"color":"#333333","align":"right","dx":-3},"encoding":{"x":{"field":"widget","type":"nominal","bandPosition":0,"scale":{"type":"band","domain":["Freq (Hz)"],"range":[48,91],"paddingInner":0,"paddingOuter":0},"axis":null},"y":{"field":"widget","type":"nominal","scale":{"type":"band","domain":["Freq (Hz)"],"range":[215,229],"paddingInner":0,"paddingOuter":0},"axis":null},"text":{"field":"widget"}}},
{"data":{"name":"processData"},"mark":{"type":"bar","fill":"#c9c9c9","stroke":"#8a8a8a","strokeWidth":1,"cornerRadius":1},"encoding":{"x":{"field":"widget","type":"nominal","scale":{"type":"band","domain":["Process Data"],"range":[21,105],"paddingInner":0,"paddingOuter":0},"axis":null},"y":{"field":"widget","type":"nominal","scale":{"type":"band","domain":["Process Data"],"range":[256,275],"paddingInner":0,"paddingOuter":0},"axis":null}}},
{"data":{"name":"processData"},"mark":{"type":"text","fontSize":7.5,"color":"#222222"},"encoding":{"x":{"field":"widget","type":"nominal","scale":{"type":"band","domain":["Process Data"],"range":[21,105],"paddingInner":0,"paddingOuter":0},"axis":null},"y":{"field":"widget","type":"nominal","scale":{"type":"band","domain":["Process Data"],"range":[256,275],"paddingInner":0,"paddingOuter":0},"axis":null},"text":{"field":"widget"}}},
{"data":{"name":"channels"},"mark":{"type":"bar","fill":"#000000"},"encoding":{"x":{"field":"column","type":"nominal","scale":{"type":"band","domain":["traces"],"range":[48,62],"paddingInner":0,"paddingOuter":0},"axis":null},"y":{"field":"ch","type":"nominal","scale":{"type":"band","domain":["CH 1","CH 2","CH 3","CH 4","CH 5","CH 6","CH 7","CH 8","Mark"],"range":[333.5,432.5],"paddingInner":0,"paddingOuter":0},"axis":null}}},
{"data":{"name":"channels"},"mark":{"type":"text","fontSize":6.5,"color":"#333333","align":"right","dx":-2},"encoding":{"x":{"field":"column","type":"nominal","bandPosition":0,"scale":{"type":"band","domain":["traces"],"range":[48,62],"paddingInner":0,"paddingOuter":0},"axis":null},"y":{"field":"ch","type":"nominal","scale":{"type":"band","domain":["CH 1","CH 2","CH 3","CH 4","CH 5","CH 6","CH 7","CH 8","Mark"],"range":[333.5,432.5],"paddingInner":0,"paddingOuter":0},"axis":null},"text":{"field":"ch"}}},
{"data":{"name":"channels"},"mark":{"type":"point","shape":"M-1,0.45L0,-0.45L1,0.45","filled":false,"size":110,"strokeWidth":1.5,"opacity":1},"encoding":{"x":{"field":"column","type":"nominal","scale":{"type":"band","domain":["traces"],"range":[48,62],"paddingInner":0,"paddingOuter":0},"axis":null},"y":{"field":"ch","type":"nominal","scale":{"type":"band","domain":["CH 1","CH 2","CH 3","CH 4","CH 5","CH 6","CH 7","CH 8","Mark"],"range":[333.5,432.5],"paddingInner":0,"paddingOuter":0},"axis":null},"stroke":{"field":"ch","type":"nominal","scale":{"domain":["CH 1","CH 2","CH 3","CH 4","CH 5","CH 6","CH 7","CH 8","Mark"],"range":["#e6e04a","#e04646","#3fc43f","#4fa3e0","#ffffff","#b44fd6","#f08a1f","#a8692a","#e24aa8"]},"legend":null}}},
{"data":{"name":"channels"},"transform":[{"filter":"datum.switch == 'ON'"}],"mark":{"type":"bar","fill":"#74c447","stroke":"#3f8a2a","strokeWidth":1},"encoding":{"x":{"field":"switch","type":"nominal","scale":{"type":"band","domain":["ON"],"range":[22,34],"paddingInner":0,"paddingOuter":0},"axis":null},"y":{"field":"ch","type":"nominal","scale":{"type":"band","domain":["CH 1","CH 2","CH 3","CH 4","CH 5","CH 6","CH 7","CH 8"],"range":[303.7,391.8],"paddingInner":0.104,"paddingOuter":0},"axis":null}}},
{"data":{"name":"channels"},"transform":[{"filter":"datum.switch == 'ON'"}],"mark":{"type":"text","fontSize":3.5,"color":"#1e5e1e"},"encoding":{"x":{"field":"switch","type":"nominal","scale":{"type":"band","domain":["ON"],"range":[22,34],"paddingInner":0,"paddingOuter":0},"axis":null},"y":{"field":"ch","type":"nominal","scale":{"type":"band","domain":["CH 1","CH 2","CH 3","CH 4","CH 5","CH 6","CH 7","CH 8"],"range":[303.7,391.8],"paddingInner":0.104,"paddingOuter":0},"axis":null},"text":{"field":"switch"}}}
]
}
],
"spacing":0,
"bounds":"flush"
}
],
"spacing":0,
"bounds":"flush"
}
]
}
